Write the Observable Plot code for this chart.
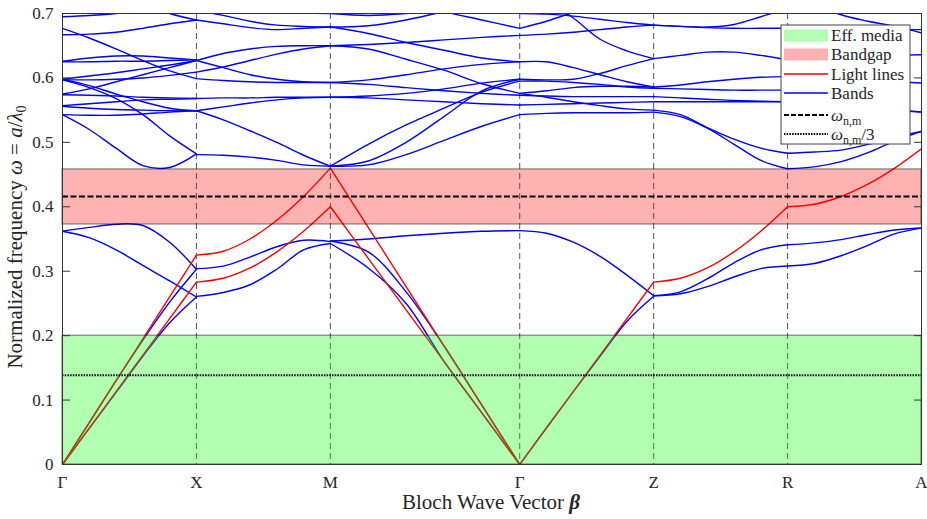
<!DOCTYPE html>
<html><head><meta charset="utf-8">
<script src="https://cdn.jsdelivr.net/npm/d3@7"></script>
<script src="https://cdn.jsdelivr.net/npm/@observablehq/plot@0.6"></script>
<style>body{margin:0;background:#fff;}</style>
</head><body><div id="chart"></div>
<script>
// ---- symmetry points along the Bloch path ----
const symLabels = ["Γ", "X", "M", "Γ", "Z", "R", "A"];
const symK = [0, 1, 2, 3.414, 4.414, 5.414, 6.414];
// fractional positions within each segment at which band values were read
const tSamples = [0, 0.2, 0.4, 0.6, 0.8, 1];
const yTicks = [0, 0.1, 0.2, 0.3, 0.4, 0.5, 0.6, 0.7];

// ---- shaded regions and reference frequencies ----
const effMedia = [0, 0.2];
const bandgap = [0.3725, 0.458];
const omegaNM = 0.416;
const omegaNM3 = 0.1387;

// ---- band values (normalized frequency) per segment ----
const bandsGX = [
  [0, 0.056, 0.112, 0.168, 0.220, 0.260],
  [0, 0.065, 0.130, 0.193, 0.252, 0.303],
  [0.362, 0.352, 0.333, 0.309, 0.285, 0.260],
  [0.362, 0.368, 0.373, 0.371, 0.345, 0.303],
  [0.543, 0.520, 0.491, 0.464, 0.461, 0.482],
  [0.597, 0.585, 0.568, 0.543, 0.510, 0.482],
  [0.677, 0.662, 0.645, 0.627, 0.611, 0.599],
  [0.700, 0.703, 0.707, 0.712, 0.717, 0.722],
  [0.695, 0.697, 0.700, 0.705, 0.710, 0.715],
  [0.667, 0.668, 0.671, 0.677, 0.684, 0.690],
  [0.760, 0.745, 0.730, 0.715, 0.700, 0.690],
  [0.626, 0.631, 0.634, 0.634, 0.631, 0.628],
  [0.625, 0.625, 0.626, 0.626, 0.627, 0.628],
  [0.598, 0.603, 0.608, 0.614, 0.620, 0.627],
  [0.575, 0.583, 0.594, 0.605, 0.616, 0.627],
  [0.597, 0.597, 0.598, 0.600, 0.604, 0.609],
  [0.574, 0.573, 0.572, 0.570, 0.569, 0.568],
  [0.557, 0.560, 0.563, 0.566, 0.567, 0.568],
  [0.556, 0.553, 0.551, 0.550, 0.549, 0.549],
  [0.543, 0.542, 0.542, 0.544, 0.547, 0.549],
  [0.598, 0.588, 0.575, 0.563, 0.553, 0.549]
];
const bandsXM = [
  [0.304, 0.308, 0.322, 0.338, 0.348, 0.346],
  [0.261, 0.267, 0.279, 0.303, 0.333, 0.343],
  [0.690, 0.684, 0.678, 0.675, 0.677, 0.679],
  [0.705, 0.697, 0.688, 0.682, 0.680, 0.679],
  [0.627, 0.638, 0.645, 0.649, 0.650, 0.650],
  [0.627, 0.616, 0.605, 0.598, 0.594, 0.593],
  [0.609, 0.617, 0.627, 0.637, 0.645, 0.650],
  [0.599, 0.596, 0.594, 0.593, 0.593, 0.593],
  [0.568, 0.569, 0.569, 0.570, 0.570, 0.570],
  [0.549, 0.555, 0.561, 0.566, 0.569, 0.570],
  [0.549, 0.535, 0.518, 0.500, 0.480, 0.463],
  [0.481, 0.480, 0.477, 0.472, 0.465, 0.463],
  [0.720, 0.715, 0.710, 0.705, 0.701, 0.700]
];
const bandsMG = [
  [0.347, 0.350, 0.355, 0.359, 0.362, 0.363],
  [0.343, 0.305, 0.250, 0.160, 0.080, 0],
  [0.347, 0.330, 0.268, 0.184, 0.092, 0],
  [0.463, 0.465, 0.481, 0.503, 0.525, 0.543],
  [0.463, 0.471, 0.500, 0.540, 0.580, 0.598],
  [0.463, 0.497, 0.527, 0.553, 0.578, 0.595],
  [0.570, 0.572, 0.576, 0.583, 0.592, 0.598],
  [0.570, 0.569, 0.566, 0.563, 0.560, 0.558],
  [0.593, 0.597, 0.605, 0.614, 0.621, 0.625],
  [0.593, 0.590, 0.585, 0.580, 0.576, 0.573],
  [0.650, 0.645, 0.629, 0.612, 0.591, 0.576],
  [0.650, 0.652, 0.655, 0.659, 0.663, 0.666],
  [0.679, 0.669, 0.655, 0.643, 0.631, 0.625],
  [0.679, 0.681, 0.690, 0.703, 0.715, 0.725],
  [0.760, 0.740, 0.720, 0.703, 0.690, 0.677],
  [0.700, 0.697, 0.700, 0.706, 0.712, 0.720]
];
const bandsGZ = [
  [0.363, 0.359, 0.345, 0.323, 0.294, 0.262],
  [0, 0.057, 0.113, 0.168, 0.222, 0.261],
  [0.700, 0.699, 0.696, 0.691, 0.686, 0.682],
  [0.677, 0.688, 0.702, 0.716, 0.730, 0.744],
  [0.666, 0.668, 0.671, 0.675, 0.679, 0.682],
  [0.740, 0.720, 0.693, 0.660, 0.642, 0.630],
  [0.625, 0.625, 0.616, 0.605, 0.594, 0.586],
  [0.598, 0.597, 0.598, 0.607, 0.619, 0.630],
  [0.595, 0.595, 0.593, 0.590, 0.586, 0.584],
  [0.576, 0.580, 0.585, 0.587, 0.587, 0.586],
  [0.573, 0.572, 0.571, 0.571, 0.571, 0.571],
  [0.558, 0.559, 0.560, 0.561, 0.562, 0.563],
  [0.543, 0.545, 0.546, 0.546, 0.546, 0.547],
  [0.576, 0.570, 0.563, 0.557, 0.552, 0.550]
];
const bandsZR = [
  [0.262, 0.268, 0.288, 0.313, 0.333, 0.341],
  [0.262, 0.265, 0.276, 0.291, 0.304, 0.308],
  [0.682, 0.680, 0.679, 0.683, 0.695, 0.708],
  [0.682, 0.680, 0.678, 0.677, 0.677, 0.677],
  [0.630, 0.635, 0.640, 0.640, 0.635, 0.628],
  [0.586, 0.589, 0.594, 0.598, 0.601, 0.602],
  [0.584, 0.583, 0.582, 0.581, 0.581, 0.581],
  [0.571, 0.569, 0.567, 0.565, 0.564, 0.563],
  [0.563, 0.563, 0.563, 0.563, 0.563, 0.563],
  [0.550, 0.543, 0.523, 0.505, 0.491, 0.483],
  [0.547, 0.540, 0.522, 0.497, 0.472, 0.459]
];
const bandsRA = [
  [0.341, 0.344, 0.349, 0.357, 0.364, 0.367],
  [0.308, 0.312, 0.324, 0.340, 0.358, 0.367],
  [0.483, 0.485, 0.488, 0.497, 0.508, 0.517],
  [0.459, 0.462, 0.470, 0.484, 0.502, 0.517],
  [0.563, 0.562, 0.560, 0.556, 0.550, 0.547],
  [0.581, 0.576, 0.568, 0.560, 0.552, 0.547],
  [0.677, 0.677, 0.676, 0.676, 0.675, 0.675],
  [0.730, 0.715, 0.698, 0.688, 0.680, 0.670],
  [0.602, 0.600, 0.598, 0.596, 0.594, 0.592],
  [0.628, 0.630, 0.632, 0.634, 0.635, 0.636]
];

// ---- light lines per segment ----
const lightGX = [[0, 0.065, 0.130, 0.195, 0.260, 0.325], [0, 0.0566, 0.1132, 0.1698, 0.2264, 0.283]];
const lightXM = [[0.325, 0.331, 0.350, 0.379, 0.416, 0.460], [0.283, 0.289, 0.305, 0.330, 0.362, 0.400]];
const lightMG = [[0.460, 0.368, 0.276, 0.184, 0.092, 0], [0.400, 0.320, 0.240, 0.160, 0.080, 0]];
const lightGZ = [[0, 0.0566, 0.1132, 0.1698, 0.2264, 0.283]];
const lightZR = [[0.283, 0.289, 0.305, 0.330, 0.362, 0.400]];
const lightRA = [[0.400, 0.404, 0.416, 0.435, 0.460, 0.490]];

const segmentBands = [bandsGX, bandsXM, bandsMG, bandsGZ, bandsZR, bandsRA];
const segmentLight = [lightGX, lightXM, lightMG, lightGZ, lightZR, lightRA];

function toRows(segs) {
  const rows = [];
  segs.forEach((bands, s) => {
    const k0 = symK[s], k1 = symK[s + 1];
    bands.forEach((vals, b) => {
      vals.forEach((w, j) => rows.push({k: k0 + tSamples[j] * (k1 - k0), w, id: s + "-" + b}));
    });
  });
  return rows;
}
const bandRows = toRows(segmentBands);
const lightRows = toRows(segmentLight);

const FONT = "'Liberation Serif', 'Times New Roman', serif";
const kFirst = symK[0], kLast = symK[symK.length - 1];

const chart = Plot.plot({
  width: 927, height: 519,
  marginLeft: 62, marginRight: 6, marginTop: 13, marginBottom: 55,
  x: {domain: [kFirst, kLast], label: null},
  y: {domain: [0, 0.7], label: null},
  style: {fontFamily: FONT, fontSize: "17px", background: "white", color: "#262626"},
  marks: [
    Plot.ruleX(symK.slice(1, -1), {stroke: "#555", strokeDasharray: "6,4", strokeWidth: 1}),
    Plot.line(bandRows, {x: "k", y: "w", z: "id", stroke: "#0000ff", strokeWidth: 1.4, curve: "catmull-rom", clip: true}),
    Plot.line(lightRows, {x: "k", y: "w", z: "id", stroke: "#ff0000", strokeWidth: 1.4, curve: "catmull-rom", clip: true}),
    Plot.rect([effMedia], {x1: () => kFirst, x2: () => kLast, y1: d => d[0], y2: d => d[1], fill: "#00ff00", fillOpacity: 0.3, stroke: "#000", strokeOpacity: 0.55}),
    Plot.rect([bandgap], {x1: () => kFirst, x2: () => kLast, y1: d => d[0], y2: d => d[1], fill: "#ff0000", fillOpacity: 0.3, stroke: "#000", strokeOpacity: 0.55}),
    Plot.ruleY([omegaNM], {stroke: "#000", strokeWidth: 2, strokeDasharray: "6,2.5"}),
    Plot.ruleY([omegaNM3], {stroke: "#000", strokeWidth: 2, strokeDasharray: "1.5,1.2"}),
    Plot.frame({stroke: "#333"}),
    Plot.axisY(yTicks, {anchor: "left", tickSize: 0, tickPadding: 9, tickFormat: d => d === 0 ? "0" : String(d), label: null, fontSize: 17}),
    Plot.axisY(yTicks, {anchor: "left", tickSize: 8, dx: 8, tickFormat: () => "", label: null, stroke: "#333"}),
    Plot.axisY(yTicks, {anchor: "right", tickSize: 8, dx: -8, tickFormat: () => "", label: null, stroke: "#333"}),
    Plot.axisX(symK, {anchor: "bottom", tickSize: 0, tickPadding: 11, tickFormat: d => symLabels[symK.indexOf(d)], label: null, fontSize: 17})
  ]
});
document.getElementById("chart").appendChild(chart);

// ---- axis titles and legend ----
const svg = d3.select(chart);

const xl = svg.append("text").attr("x", 491).attr("y", 509).attr("text-anchor", "middle")
  .attr("font-family", FONT).attr("font-size", 21).attr("fill", "#262626");
xl.append("tspan").text("Bloch Wave Vector ");
xl.append("tspan").attr("font-weight", "bold").attr("font-style", "italic").text("β");

const yl = svg.append("text").attr("transform", "translate(22,237) rotate(-90)").attr("text-anchor", "middle")
  .attr("font-family", FONT).attr("font-size", 21).attr("fill", "#262626");
yl.append("tspan").text("Normalized frequency ");
yl.append("tspan").attr("font-style", "italic").text("ω");
yl.append("tspan").text(" = ");
yl.append("tspan").attr("font-style", "italic").text("a");
yl.append("tspan").text("/");
yl.append("tspan").attr("font-style", "italic").text("λ");
yl.append("tspan").attr("font-size", 14).attr("dy", 4).text("0");

const legendItems = [
  {y: 35.5, kind: "patch", color: "#00ff00", label: ["Eff. media"]},
  {y: 54.5, kind: "patch", color: "#ff0000", label: ["Bandgap"]},
  {y: 74, kind: "line", color: "#ff0000", width: 1.4, label: ["Light lines"]},
  {y: 93, kind: "line", color: "#0000ff", width: 1.4, label: ["Bands"]},
  {y: 115, kind: "line", color: "#000", width: 2, dash: "5,2", label: ["ω", "n,m", ""]},
  {y: 134, kind: "line", color: "#000", width: 2, dash: "1.5,1.2", label: ["ω", "n,m", "/3"]}
];
const lg = svg.append("g").attr("font-family", FONT).attr("font-size", 17).attr("fill", "#262626")
  .attr("text-anchor", "start");
lg.append("rect").attr("x", 781).attr("y", 25).attr("width", 129).attr("height", 119)
  .attr("fill", "white").attr("stroke", "#444").attr("stroke-width", 1);
legendItems.forEach(it => {
  if (it.kind === "patch") {
    lg.append("rect").attr("x", 784).attr("y", it.y - 6).attr("width", 44).attr("height", 12)
      .attr("fill", it.color).attr("fill-opacity", 0.3);
  } else {
    lg.append("line").attr("x1", 784).attr("x2", 828).attr("y1", it.y).attr("y2", it.y)
      .attr("stroke", it.color).attr("stroke-width", it.width).attr("stroke-dasharray", it.dash || null);
  }
  const t = lg.append("text").attr("x", 831).attr("y", it.y).attr("dy", "0.35em").attr("text-anchor", "start");
  if (it.label.length === 1) {
    t.text(it.label[0]);
  } else {
    t.append("tspan").attr("font-style", "italic").text(it.label[0]);
    t.append("tspan").attr("font-size", 12).attr("dy", 4).text(it.label[1]);
    if (it.label[2]) t.append("tspan").attr("dy", -4).text(it.label[2]);
  }
});
</script>
</body></html>
